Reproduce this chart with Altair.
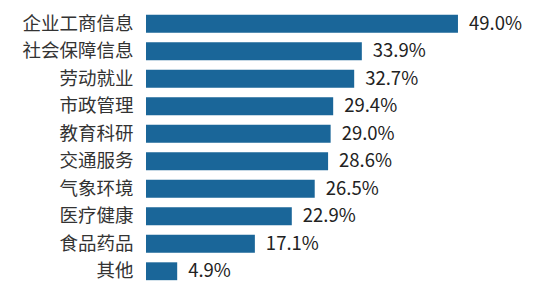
import altair as alt
import pandas as pd

categories = ["企业工商信息", "社会保障信息", "劳动就业", "市政管理", "教育科研",
              "交通服务", "气象环境", "医疗健康", "食品药品", "其他"]
values = [49.0, 33.9, 32.7, 29.4, 29.0, 28.6, 26.5, 22.9, 17.1, 4.9]
labels = ["49.0%", "33.9%", "32.7%", "29.4%", "29.0%", "28.6%", "26.5%", "22.9%", "17.1%", "4.9%"]

df = pd.DataFrame({"cat": categories, "val": values, "lab": labels})

FONT = "Noto Sans CJK SC"

y = alt.Y("cat:N", sort=categories, title=None,
          scale=alt.Scale(paddingInner=0.35, paddingOuter=0.175),
          axis=alt.Axis(domain=False, ticks=False, labelPadding=13,
                        labelFontSize=18.5, labelColor="#333333", labelFont=FONT,
                        labelLimit=200))
x = alt.X("val:Q", title=None, scale=alt.Scale(domain=[0, 60]), axis=None)

bars = alt.Chart(df).mark_bar(color="#1a6699").encode(x=x, y=y)
text = alt.Chart(df).mark_text(align="left", baseline="middle", dx=11, fontSize=18.5,
                               font=FONT, color="#222222").encode(x=x, y=y, text="lab:N")

chart = (bars + text).properties(
    width=382, height=275,
    autosize=alt.AutoSizeParams(type="none"),
    padding={"left": 146, "top": 10, "right": 8, "bottom": 9},
    background="white",
).configure_view(stroke=None)

chart.save("out.html", embed_options={"renderer": "svg", "actions": False})
